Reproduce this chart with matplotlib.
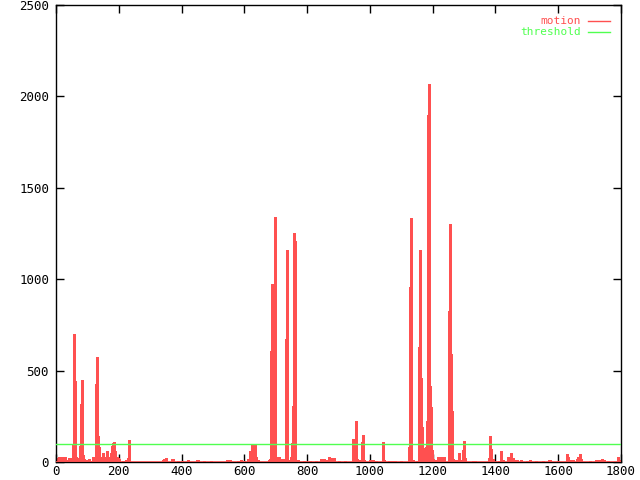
import matplotlib
matplotlib.use("Agg")
import matplotlib.pyplot as plt

frames = [3, 10, 14, 20, 26, 30, 36, 42, 46, 50,
          55, 57, 60, 63, 67, 72, 78, 80, 83, 86, 90, 96, 104, 112, 118, 122, 126, 129, 132, 135, 138, 141,
          146, 150, 154, 158, 163, 166, 170, 174, 177, 180, 183, 186, 189, 193, 196, 200, 214, 222, 228, 231, 234,
          340, 345, 350, 368, 372, 390, 400, 420, 448, 452, 470, 493, 545, 555, 580, 590, 600,
          612, 618, 620, 623, 627, 630, 634, 638, 642,
          680, 683, 686, 688, 691, 695, 699, 702, 706, 709, 712, 716, 726, 729, 732, 735, 737, 741, 749, 753, 756,
          759, 763, 770,
          790, 810, 828, 845, 855, 860, 870, 873, 880, 885, 900, 920,
          945, 947, 950, 954, 957, 960, 965, 975, 977, 982,
          1000, 1010, 1020, 1043, 1046, 1060, 1070, 1080, 1100,
          1124, 1127, 1129, 1132, 1136, 1150, 1155, 1158, 1161, 1163, 1167, 1171, 1176, 1180, 1183, 1186, 1189,
          1193, 1196, 1199, 1202, 1210, 1218, 1222, 1226, 1230, 1236,
          1253, 1256, 1259, 1263, 1266, 1275, 1280, 1285, 1290, 1298, 1301, 1304, 1330, 1335, 1378, 1381, 1384,
          1387, 1391, 1410, 1419, 1424, 1440, 1445, 1451, 1455, 1462, 1470, 1480, 1500, 1510,
          1530, 1550, 1570, 1575, 1600, 1629, 1632, 1640, 1646, 1660, 1664, 1667, 1670, 1673, 1700, 1720, 1730,
          1738, 1745, 1760, 1790, 1793]
motion = [20, 30, 15, 25, 12, 28, 10, 20, 22, 20,
          95, 700, 445, 30, 10, 20, 90, 317, 449, 40, 15, 10, 15, 8, 25, 25, 60, 427, 576, 142, 80, 30,
          20, 50, 30, 15, 60, 30, 20, 50, 85, 65, 105, 110, 60, 30, 20, 15, 8, 10, 20, 120, 25,
          10, 18, 20, 18, 18, 8, 6, 12, 10, 10, 5, 5, 10, 12, 8, 12, 5,
          15, 60, 50, 93, 40, 66, 93, 30, 10,
          10, 15, 607, 974, 705, 733, 1342, 12, 30, 20, 25, 15, 15, 15, 673, 1160, 406, 10, 30, 104, 306,
          1254, 1211, 10,
          8, 8, 6, 15, 15, 10, 25, 12, 20, 20, 8, 8,
          10, 128, 30, 30, 226, 15, 10, 109, 148, 10,
          12, 10, 5, 109, 12, 5, 6, 8, 5,
          84, 90, 959, 1337, 10, 8, 20, 631, 1160, 461, 193, 77, 10, 84, 226, 1898, 2068,
          416, 303, 66, 15, 12, 30, 15, 25, 15, 30,
          828, 1302, 591, 279, 15, 12, 12, 49, 12, 66, 115, 20, 8, 8, 10, 20, 142,
          71, 15, 8, 60, 10, 30, 30, 51, 20, 10, 10, 10, 8, 10,
          5, 5, 12, 12, 5, 44, 25, 10, 10, 15, 25, 30, 44, 15, 8, 10, 12,
          15, 10, 8, 27, 10]
threshold = 100
x_ticks = [0, 200, 400, 600, 800, 1000, 1200, 1400, 1600, 1800]
y_ticks = [0, 500, 1000, 1500, 2000, 2500]

RED = "#ff5050"
GREEN = "#50ff50"

fig = plt.figure(figsize=(6.4, 4.8), dpi=100)
ax = fig.add_axes([56/640, 18/480, 565/640, 457/480])

ax.vlines(frames, 0, motion, colors=RED, linewidth=1.0, antialiased=False, zorder=2)
ax.axhline(threshold, color=GREEN, linewidth=1.0, zorder=3)
ax.axhline(0, color=RED, linewidth=1.2, zorder=4)

ax.set_xlim(0, 1800)
ax.set_ylim(0, 2500)
ax.set_xticks(x_ticks)
ax.set_yticks(y_ticks)
ax.tick_params(direction="in", length=6, width=1, top=True, right=True, labelsize=9)
ax.tick_params(axis="x", pad=2.5)
ax.tick_params(axis="y", pad=5)
for lab in ax.get_xticklabels() + ax.get_yticklabels():
    lab.set_family("DejaVu Sans Mono")
for s in ax.spines.values():
    s.set_color("black")
    s.set_linewidth(1)

# legend (gnuplot style: text right-aligned, sample line to the right)
fig.text(581/640, 1 - 21/480, "motion", color=RED, ha="right", va="center",
         family="DejaVu Sans Mono", fontsize=8)
fig.text(581/640, 1 - 32/480, "threshold", color=GREEN, ha="right", va="center",
         family="DejaVu Sans Mono", fontsize=8)
fig.add_artist(plt.Line2D([588/640, 610/640], [1 - 21/480, 1 - 21/480], color=RED, lw=1))
fig.add_artist(plt.Line2D([588/640, 610/640], [1 - 32/480, 1 - 32/480], color=GREEN, lw=1))

fig.savefig("out.png", dpi=100)
